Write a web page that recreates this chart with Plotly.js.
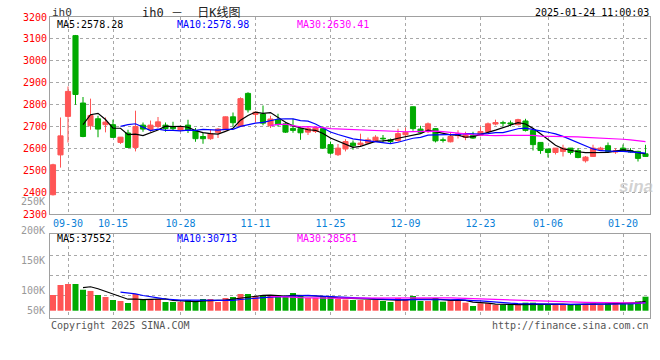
<!DOCTYPE html>
<html><head><meta charset="utf-8">
<script src="https://cdn.plot.ly/plotly-3.0.1.min.js"></script>
<style>html,body{margin:0;padding:0;background:#fff}#chart{width:660px;height:360px}</style>
</head><body><div id="chart"></div>
<script>
// ---- data ----
const dates = ['09-26','09-27','09-30',
 '10-08','10-09','10-10','10-11','10-14','10-15','10-16','10-17','10-18','10-21','10-22','10-23','10-24','10-25','10-28','10-29','10-30','10-31',
 '11-01','11-04','11-05','11-06','11-07','11-08','11-11','11-12','11-13','11-14','11-15','11-18','11-19','11-20','11-21','11-22','11-25','11-26','11-27','11-28','11-29',
 '12-02','12-03','12-04','12-05','12-06','12-09','12-10','12-11','12-12','12-13','12-16','12-17','12-18','12-19','12-20','12-23','12-24','12-25','12-26','12-27','12-30','12-31',
 '01-02','01-03','01-06','01-07','01-08','01-09','01-10','01-13','01-14','01-15','01-16','01-17','01-20','01-21','01-22','01-23'];
const open  = [2388,2570,2746,3115,2807,2703,2735,2708,2708,2627,2670,2604,2706,2685,2700,2706,2700,2684,2706,2680,2654,2644,2673,2685,2744,2700,2851,2755,2757,2703,2731,2712,2691,2690,2674,2677,2690,2617,2571,2597,2624,2617,2624,2636,2646,2639,2636,2662,2790,2688,2676,2690,2639,2630,2658,2650,2658,2659,2677,2711,2717,2716,2708,2725,2682,2627,2597,2581,2586,2601,2590,2543,2563,2594,2612,2583,2601,2590,2586,2575];
const high  = [2530,2741,2883,3118,2834,2827,2749,2741,2731,2652,2685,2772,2718,2727,2743,2718,2722,2704,2731,2693,2673,2685,2693,2745,2764,2833,2856,2768,2796,2749,2758,2721,2735,2700,2700,2700,2700,2631,2620,2642,2636,2667,2650,2660,2661,2645,2690,2695,2790,2703,2718,2693,2650,2674,2683,2676,2676,2700,2718,2731,2726,2727,2735,2735,2682,2627,2597,2601,2616,2601,2601,2565,2616,2607,2627,2601,2617,2601,2589,2616];
const low   = [2385,2512,2627,2799,2651,2685,2651,2673,2648,2620,2603,2586,2676,2676,2693,2676,2684,2676,2670,2630,2621,2639,2647,2683,2700,2698,2764,2718,2705,2693,2700,2670,2671,2639,2661,2670,2597,2571,2565,2586,2593,2610,2620,2630,2627,2620,2630,2650,2680,2670,2670,2627,2627,2627,2645,2637,2644,2655,2670,2705,2700,2700,2705,2677,2590,2575,2558,2572,2563,2572,2555,2535,2560,2590,2586,2575,2590,2580,2540,2563];
const close = [2525,2657,2860,2846,2654,2750,2688,2720,2650,2651,2604,2700,2688,2706,2721,2690,2690,2698,2682,2644,2644,2667,2688,2744,2717,2827,2776,2765,2715,2734,2708,2674,2682,2671,2690,2695,2601,2578,2601,2631,2612,2624,2639,2651,2643,2631,2667,2673,2690,2673,2712,2634,2636,2654,2667,2662,2647,2677,2712,2718,2715,2711,2731,2682,2617,2590,2581,2601,2601,2581,2558,2560,2601,2601,2586,2590,2586,2583,2554,2563];
const volume = [52000,76700,79200,79200,65000,62000,52000,47000,39600,37100,32200,54500,39600,42100,42100,34700,34700,34700,39600,34700,42100,42100,34700,44600,47000,54500,54500,49500,49500,49500,49500,49500,57000,52000,44600,44600,47000,47000,42100,40800,39600,39600,39600,39600,37100,34700,44600,42100,49500,37100,37100,44600,35400,39600,39600,33000,24800,31400,31400,27200,27200,27200,27200,33000,33000,29700,29700,27200,27200,27200,29700,30400,31400,27200,31400,33900,31400,31400,36400,47800];
const tickDates = ['09-30','10-15','10-28','11-11','11-25','12-09','12-23','01-06','01-20'];
const priceTicks = [2300,2400,2500,2600,2700,2800,2900,3000,3100,3200];
const volGridTicks = [50000,100000,150000];
const volLabels = ['250K','200K','150K','100K','50K'];
const priceMaLabels = ['MA5:2578.28','MA10:2578.98','MA30:2630.41'];
const volMaLabels = ['MA5:37552','MA10:30713','MA30:28561'];
const titleText = 'ih0 －  日K线图';
const symbolText = 'ih0';
const timeText = '2025-01-24 11:00:03';
const copyrightText = 'Copyright 2025 SINA.COM';
const urlText = 'http://finance.sina.com.cn';

// ---- helpers ----
function sma(arr, n){ return arr.map((_, i) => i < n - 1 ? null : arr.slice(i - n + 1, i + 1).reduce((a, b) => a + b, 0) / n); }
const xs = dates.map((_, i) => i);
const tickvals = tickDates.map(d => dates.indexOf(d));

const RED = '#ff5555', GREEN = '#00aa00';
const MA_COLORS = ['#000000', '#0000ff', '#ff00ff'];
const MONO = '"DejaVu Sans Mono", "Liberation Mono", monospace';
const VOL_FLOOR = 13100;
const candleColor = close.map((c, i) => c >= open[i] ? RED : GREEN);

// pixel -> paper helpers (plot area: x 50..650, y 17..318)
const L = 50, R = 10, T = 17, B = 42, W = 660, H = 360;
const PW = W - L - R, PH = H - T - B;
const px = x => (x - L) / PW;
const py = y => (H - B - y) / PH;

const traces = [];
// wicks
traces.push({
  type: 'bar', x: xs, base: low, y: high.map((h, i) => h - low[i]), xaxis: 'x', yaxis: 'y',
  width: 0.14, marker: {color: candleColor, line: {width: 0}}, hoverinfo: 'skip', showlegend: false
});
// bodies
traces.push({
  type: 'bar', x: xs, base: open.map((o, i) => Math.min(o, close[i])), y: open.map((o, i) => Math.abs(close[i] - o)),
  xaxis: 'x', yaxis: 'y', width: 0.68,
  marker: {color: candleColor, line: {width: 1, color: candleColor}}, hoverinfo: 'skip', showlegend: false
});
[5, 10, 30].forEach((n, k) => {
  traces.push({type: 'scatter', mode: 'lines', x: xs, y: sma(close, n), xaxis: 'x', yaxis: 'y',
    line: {color: MA_COLORS[k], width: 1.2}, hoverinfo: 'skip', showlegend: false});
});
traces.push({
  type: 'bar', x: xs, y: volume.map(v => v - VOL_FLOOR), base: VOL_FLOOR, xaxis: 'x2', yaxis: 'y2',
  width: 0.8, marker: {color: candleColor, line: {width: 0}},
  hoverinfo: 'skip', showlegend: false
});
[5, 10, 30].forEach((n, k) => {
  traces.push({type: 'scatter', mode: 'lines', x: xs, y: sma(volume, n), xaxis: 'x2', yaxis: 'y2',
    line: {color: MA_COLORS[k], width: 1.2}, hoverinfo: 'skip', showlegend: false});
});

const ann = [];
function txt(text, x, y, color, anchor, size, family){
  ann.push({text: text, xref: 'paper', yref: 'paper', x: px(x), y: py(y), xanchor: anchor || 'left', yanchor: 'middle',
    showarrow: false, font: {family: family || MONO, size: size || 10, color: color}});
}
txt(symbolText, 50, 12.5, '#333333', 'left', 11);
txt(titleText, 140, 12.5, '#222222', 'left', 12, '"DejaVu Sans Mono", "Noto Sans CJK SC", monospace');
txt(timeText, 651, 12.5, '#000000', 'right', 10);
const maX = [55, 175, 295];
priceMaLabels.forEach((t, k) => txt(t, maX[k], 24, MA_COLORS[k], 'left', 10));
volMaLabels.forEach((t, k) => txt(t, maX[k], 238.5, MA_COLORS[k], 'left', 10));
const volLabelY = [201, 230.7, 260.7, 290, 310.7];
volLabels.forEach((t, k) => txt(t, 47, volLabelY[k], '#999999', 'right', 10));
txt(copyrightText, 49, 325, '#555555', 'left', 10);
txt(urlText, 651, 325, '#555555', 'right', 10);
ann.push({text: '<b><i>sina</i></b>', xref: 'paper', yref: 'paper', x: px(636), y: py(187), xanchor: 'center', yanchor: 'middle',
  showarrow: false, font: {family: 'Liberation Sans, Arial, sans-serif', size: 17, color: 'rgba(195,195,195,0.75)'}});

const gridStyle = {showgrid: true, gridcolor: '#a8a8a8', griddash: 'dot', gridwidth: 1};
const layout = {
  width: W, height: H, margin: {l: L, r: R, t: T, b: B, pad: 0},
  paper_bgcolor: '#ffffff', plot_bgcolor: '#ffffff', showlegend: false, dragmode: false,
  barmode: 'overlay',
  xaxis: Object.assign({domain: [0, 1], anchor: 'y', range: [-0.4, 79.6], tickmode: 'array', tickvals: tickvals, ticktext: tickDates,
    ticks: '', showline: true, mirror: true, linecolor: '#a0a0a0', linewidth: 1, zeroline: false,
    tickfont: {family: MONO, size: 10, color: '#0a7fd8'}, fixedrange: true}, gridStyle),
  yaxis: Object.assign({domain: [py(214), 1], anchor: 'x', range: [2300, 3200], tickmode: 'array', tickvals: priceTicks,
    ticks: '', showline: true, mirror: true, linecolor: '#a0a0a0', linewidth: 1, zeroline: false,
    tickfont: {family: MONO, size: 10, color: '#ff0000'}, fixedrange: true}, gridStyle),
  xaxis2: Object.assign({domain: [0, 1], anchor: 'y2', matches: 'x', range: [-0.4, 79.6], tickmode: 'array', tickvals: tickvals,
    showticklabels: false, ticks: '', showline: true, mirror: true, linecolor: '#a0a0a0', linewidth: 1, zeroline: false, fixedrange: true}, gridStyle),
  yaxis2: Object.assign({domain: [0, py(234.3)], anchor: 'x2', range: [-4950, 202200], tickmode: 'array', tickvals: volGridTicks,
    showticklabels: false, ticks: '', showline: true, mirror: true, linecolor: '#a0a0a0', linewidth: 1, zeroline: false, fixedrange: true}, gridStyle),
  annotations: ann
};
Plotly.newPlot('chart', traces, layout, {staticPlot: true, displayModeBar: false});
</script></body></html>
